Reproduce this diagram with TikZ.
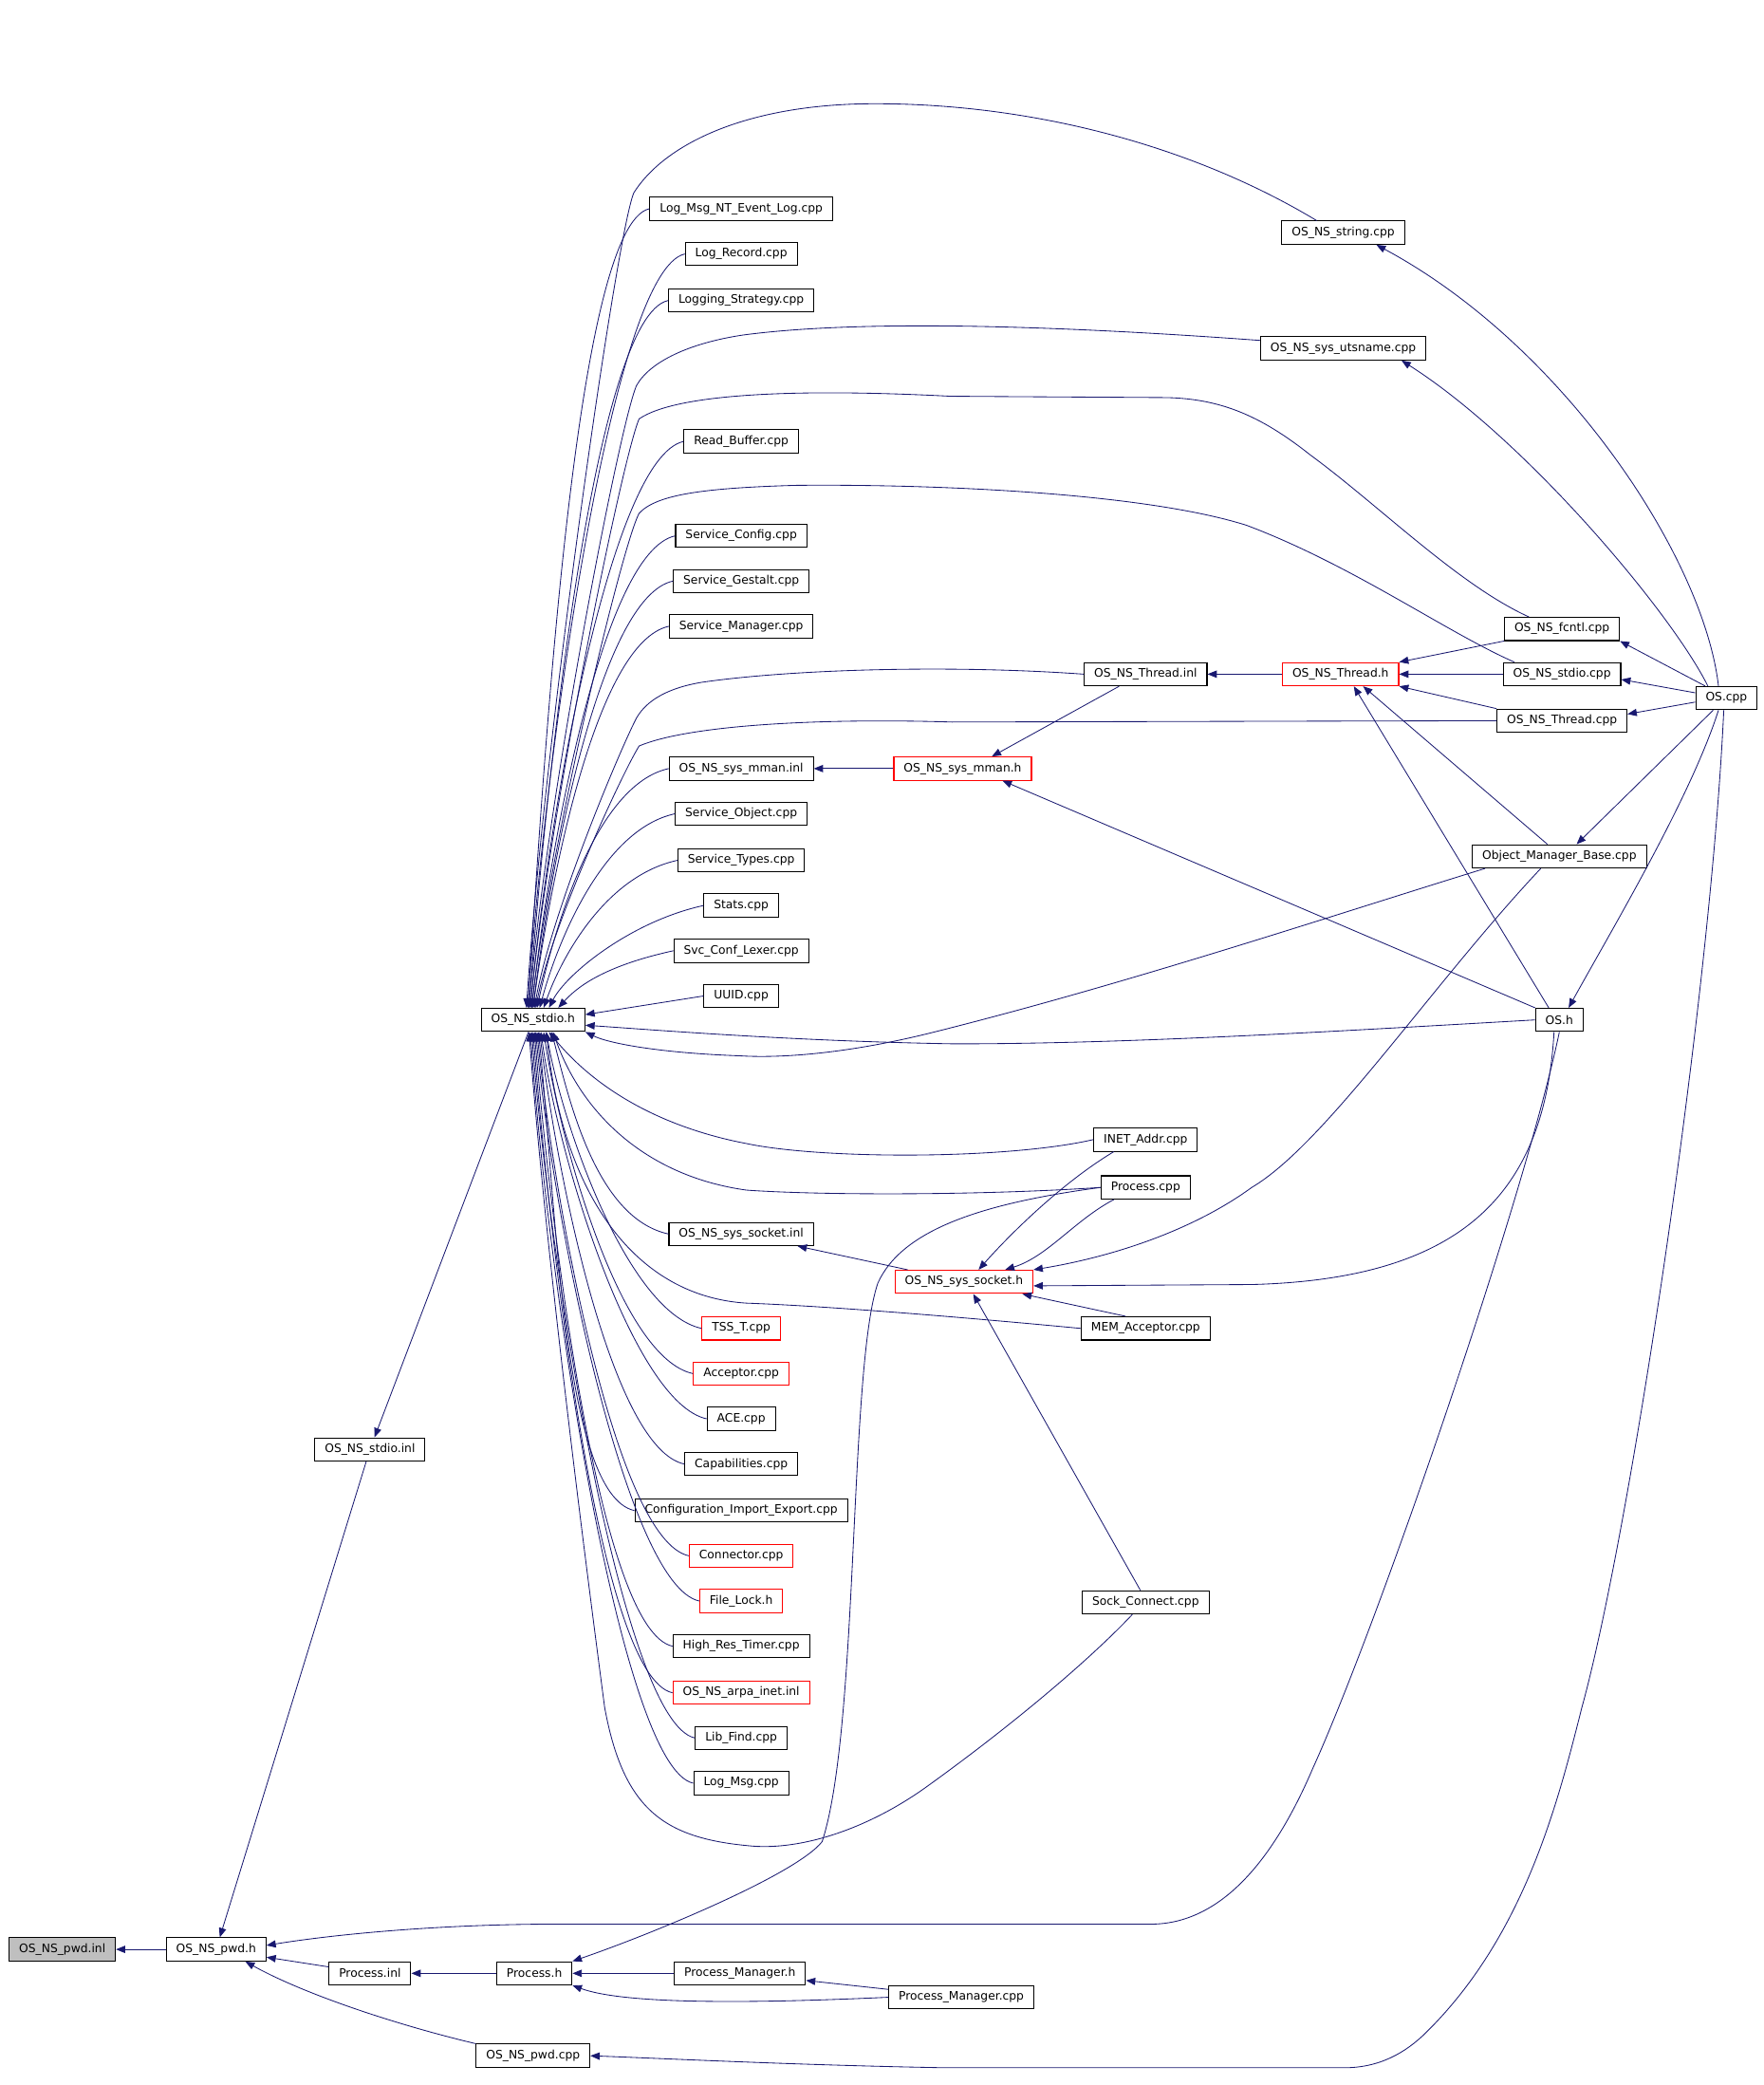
\documentclass[tikz,border=0pt]{standalone}
\usepackage{fontspec}
\newfontfamily\dxfont{DejaVu Sans}
\usetikzlibrary{calc,arrows.meta}
\definecolor{edgeblue}{RGB}{25,25,112}
\definecolor{rootgray}{RGB}{191,191,191}
\tikzset{
  filebox/.style={draw=black, line width=0.75pt, minimum height=17.5pt, inner xsep=7.5pt, inner ysep=0pt, font=\dxfont\fontsize{8.8}{10}\selectfont},
  redbox/.style={filebox, draw=red},
  rootbox/.style={filebox, fill=rootgray},
  dep/.style={draw=edgeblue, line width=0.6pt, -{Triangle[length=7pt,width=5.5pt]}}
}

\begin{document}
\begin{tikzpicture}[x=1pt, y=-1.0027pt]
	%%%%% START %%%%%
	\useasboundingbox (0,0) rectangle (1330,1568);

	% left part
	\node[rootbox] (pwdinl) at (47,1466) {OS\_NS\_pwd.inl};
	\node[filebox] (pwdh) at (163,1466) {OS\_NS\_pwd.h};
	\node[filebox] (procinl) at (279,1484) {Process.inl};
	\node[filebox] (prh) at (403,1484) {Process.h};
	\node[filebox] (pmh) at (558,1484) {Process\_Manager.h};
	\node[filebox] (pmcpp) at (725,1502) {Process\_Manager.cpp};
	\node[filebox] (pwdcpp) at (402,1546) {OS\_NS\_pwd.cpp};
	\node[filebox] (stdioinl) at (279,1090) {OS\_NS\_stdio.inl};
	\node[filebox] (stdioh) at (402,767) {OS\_NS\_stdio.h};

	% column of files including OS_NS_stdio.h
	\node[filebox] (lognt) at (559,157) {Log\_Msg\_NT\_Event\_Log.cpp};
	\node[filebox] (logrec) at (559,191) {Log\_Record.cpp};
	\node[filebox] (logstrat) at (559,226) {Logging\_Strategy.cpp};
	\node[filebox] (readbuf) at (559,332) {Read\_Buffer.cpp};
	\node[filebox] (svcconf) at (559,403) {Service\_Config.cpp};
	\node[filebox] (svcgest) at (559,437) {Service\_Gestalt.cpp};
	\node[filebox] (svcmgr) at (559,471) {Service\_Manager.cpp};
	\node[filebox] (mmaninl) at (559,578) {OS\_NS\_sys\_mman.inl};
	\node[filebox] (svcobj) at (559,612) {Service\_Object.cpp};
	\node[filebox] (svctypes) at (559,647) {Service\_Types.cpp};
	\node[filebox] (stats) at (559,681) {Stats.cpp};
	\node[filebox] (svclex) at (559,715) {Svc\_Conf\_Lexer.cpp};
	\node[filebox] (uuid) at (559,749) {UUID.cpp};
	\node[filebox] (sockinl) at (559,928) {OS\_NS\_sys\_socket.inl};
	\node[redbox] (tsst) at (559,999) {TSS\_T.cpp};
	\node[redbox] (acceptor) at (559,1033) {Acceptor.cpp};
	\node[filebox] (ace) at (559,1067) {ACE.cpp};
	\node[filebox] (capab) at (559,1101) {Capabilities.cpp};
	\node[filebox] (config) at (559,1136) {Configuration\_Import\_Export.cpp};
	\node[redbox] (connector) at (559,1170) {Connector.cpp};
	\node[redbox] (filelock) at (559,1204) {File\_Lock.h};
	\node[filebox] (hrtimer) at (559,1238) {High\_Res\_Timer.cpp};
	\node[redbox] (arpainl) at (559,1273) {OS\_NS\_arpa\_inet.inl};
	\node[filebox] (libfind) at (559,1307) {Lib\_Find.cpp};
	\node[filebox] (logmsg) at (559,1341) {Log\_Msg.cpp};

	% middle
	\node[filebox] (threadinl) at (864,507) {OS\_NS\_Thread.inl};
	\node[redbox] (mmanh) at (726,578) {OS\_NS\_sys\_mman.h};
	\node[redbox] (sockh) at (727,964) {OS\_NS\_sys\_socket.h};
	\node[filebox] (inet) at (864,857) {INET\_Addr.cpp};
	\node[filebox] (prcpp) at (864,893) {Process.cpp};
	\node[filebox] (mem) at (864,999) {MEM\_Acceptor.cpp};
	\node[filebox] (sockconn) at (864,1205) {Sock\_Connect.cpp};
	\node[redbox] (threadh) at (1011,507) {OS\_NS\_Thread.h};

	% right
	\node[filebox] (stringcpp) at (1013,175) {OS\_NS\_string.cpp};
	\node[filebox] (utsname) at (1013,262) {OS\_NS\_sys\_utsname.cpp};
	\node[filebox] (fcntl) at (1178,473) {OS\_NS\_fcntl.cpp};
	\node[filebox] (stdiocpp) at (1178,507) {OS\_NS\_stdio.cpp};
	\node[filebox] (threadcpp) at (1178,542) {OS\_NS\_Thread.cpp};
	\node[filebox] (omb) at (1176,644) {Object\_Manager\_Base.cpp};
	\node[filebox] (osh) at (1176,767) {OS.h};
	\node[filebox] (oscpp) at (1302,525) {OS.cpp};

	% pwd side
	\draw[dep] (pwdh) -- (pwdinl);
	\draw[dep] (procinl) -- (pwdh);
	\draw[dep] (pwdcpp.north west) .. controls (300,1523) and (230,1500) .. ([xshift=22pt]pwdh.south);
	\draw[dep] (stdioinl) -- (pwdh);
	\draw[dep] (stdioh) -- (stdioinl);
	\draw[dep] (prh) -- (procinl);
	\draw[dep] (pmh) -- (prh);
	\draw[dep] (pmcpp) -- (pmh);
	\draw[dep] (pmcpp.west) .. controls (560,1507) and (470,1507) .. (prh.south east);
	\draw[dep] (prcpp.west) .. controls (740,905) and (680,925) .. (662,965) .. controls (640,1030) and (648,1300) .. (620,1385) .. controls (600,1410) and (490,1455) .. (prh.north east);
	\draw[dep] (osh.south) .. controls (1150,900) and (1040,1220) .. (990,1330) .. controls (960,1400) and (920,1447) .. (868,1447) -- (420,1447) .. controls (330,1447) and (250,1455) .. ([yshift=3pt]pwdh.east);
	\draw[dep] ([xshift=-2pt]oscpp.south) .. controls (1290,750) and (1230,1150) .. (1193,1284) .. controls (1175,1355) and (1150,1455) .. (1076,1528) .. controls (1060,1544) and (1040,1555) .. (1014,1555) -- (712,1555) .. controls (600,1553) and (500,1548) .. (pwdcpp.east);

	% fan into OS_NS_stdio.h, top
	\foreach \n/\dx in {lognt/-4,logrec/-4,logstrat/-3,readbuf/-2,svcconf/-1,svcgest/0,svcmgr/0,mmaninl/3,svcobj/5,svctypes/8,stats/12,svclex/19}{
		\coordinate (tip) at ([xshift=\dx pt]stdioh.north);
		\draw[dep] (\n.west) .. controls +(-55,12) and ($(tip)!0.33!(tip |- \n.west) + (13,0)$) .. (tip);
	}
	\draw[dep] (uuid.west) -- ([yshift=4pt]stdioh.east);

	% fan into OS_NS_stdio.h, bottom
	\foreach \n/\dx in {sockinl/14,tsst/10,acceptor/8,ace/6,capab/5,config/4,connector/3,filelock/2,hrtimer/1,arpainl/0,libfind/-1,logmsg/-2}{
		\coordinate (tip) at ([xshift=\dx pt]stdioh.south);
		\draw[dep] (\n.west) .. controls +(-55,-12) and ($(tip)!0.33!(tip |- \n.west) + (13,0)$) .. (tip);
	}

	% long ones into OS_NS_stdio.h
	\draw[dep] ([xshift=-20pt]stringcpp.north) .. controls (900,110) and (780,78) .. (660,78) .. controls (560,78) and (500,110) .. (478,145) .. controls (465,175) and (410,560) .. ([xshift=-5pt]stdioh.north);
	\draw[dep] ([yshift=6pt]utsname.west) .. controls (800,245) and (650,240) .. (560,252) .. controls (520,258) and (490,272) .. (480,290) .. controls (467,320) and (412,605) .. ([xshift=-3pt]stdioh.north);
	\draw[dep] ([xshift=-25pt]fcntl.north) .. controls (1100,440) and (1040,380) .. (988,342) .. controls (950,312) and (920,300) .. (880,299) -- (717,298) .. controls (600,292) and (510,296) .. (482,315) .. controls (469,345) and (413,620) .. ([xshift=-2pt]stdioh.north);
	\draw[dep] ([xshift=-36pt]stdiocpp.north) .. controls (1090,475) and (1020,425) .. (940,395) .. controls (860,370) and (700,364) .. (600,365) .. controls (530,367) and (495,372) .. (482,386) .. controls (469,410) and (414,640) .. ([xshift=-1pt]stdioh.north);
	\draw[dep] (threadinl.west) .. controls (720,500) and (600,503) .. (530,513) .. controls (505,517) and (488,526) .. (480,540) .. controls (467,565) and (416,686) .. ([xshift=1pt]stdioh.north);
	\draw[dep] (threadcpp.west) -- (718,543) .. controls (620,540) and (520,545) .. (482,561) .. controls (470,580) and (417,693) .. ([xshift=2pt]stdioh.north);
	\draw[dep] ([xshift=10pt]omb.south west) .. controls (1000,690) and (850,740) .. (701,777) .. controls (640,792) and (590,796) .. (558,794) .. controls (500,792) and (460,785) .. (stdioh.south east);
	\draw[dep] (osh.west) .. controls (1000,776) and (850,785) .. (720,785) .. controls (600,783) and (500,775) .. ([yshift=-4pt]stdioh.east);
	\draw[dep] (inet.west) .. controls (760,872) and (620,872) .. (563,860) .. controls (500,848) and (450,820) .. ([xshift=12pt]stdioh.south);
	\draw[dep] (prcpp.west) .. controls (740,899) and (620,899) .. (563,895) .. controls (490,885) and (440,840) .. ([xshift=15pt]stdioh.south);
	\draw[dep] (mem.west) .. controls (720,990) and (620,982) .. (563,980) .. controls (480,975) and (425,900) .. ([xshift=10pt]stdioh.south);
	\draw[dep] ([xshift=-10pt]sockconn.south) .. controls (820,1250) and (760,1300) .. (697,1345) .. controls (650,1378) and (600,1392) .. (564,1388) .. controls (500,1382) and (470,1360) .. (456,1284) .. controls (445,1200) and (412,950) .. ([xshift=-3pt]stdioh.south);

	% OS_NS_Thread.h and OS_NS_sys_mman.h
	\draw[dep] (threadh) -- (threadinl);
	\draw[dep] (fcntl.south west) -- (threadh.north east);
	\draw[dep] (stdiocpp) -- (threadh);
	\draw[dep] (threadcpp.north west) -- (threadh.south east);
	\draw[dep] ([xshift=-9pt]omb.north) -- ([xshift=17pt]threadh.south);
	\draw[dep] ([xshift=-8pt]osh.north) -- ([xshift=10pt]threadh.south);
	\draw[dep] ([xshift=-20pt]threadinl.south) -- ([xshift=22pt]mmanh.north);
	\draw[dep] (mmanh) -- (mmaninl);
	\draw[dep] (osh.north west) -- ([xshift=30pt]mmanh.south);

	% OS_NS_sys_socket.h
	\draw[dep] (sockh) -- (sockinl);
	\draw[dep] ([xshift=-24pt]inet.south) .. controls (800,890) and (760,930) .. ([xshift=11pt]sockh.north);
	\draw[dep] ([xshift=-24pt]prcpp.south) .. controls (810,918) and (790,945) .. ([xshift=31pt]sockh.north);
	\draw[dep] ([xshift=-15pt]mem.north) -- ([xshift=44pt]sockh.south);
	\draw[dep] ([xshift=-4pt]osh.south) .. controls (1165,900) and (1100,962) .. (944,966) -- ([yshift=-3pt]sockh.east);
	\draw[dep] ([xshift=-14pt]omb.south) .. controls (1080,740) and (1000,860) .. (944,893) .. controls (900,925) and (840,945) .. (sockh.north east);
	\draw[dep] ([xshift=-4pt]sockconn.north) -- ([xshift=7pt]sockh.south);

	% OS.cpp
	\draw[dep] ([xshift=-6pt]oscpp.north) .. controls (1285,420) and (1180,260) .. ([xshift=25pt]stringcpp.south);
	\draw[dep] ([xshift=-14pt]oscpp.north) .. controls (1260,460) and (1150,330) .. ([xshift=44pt]utsname.south);
	\draw[dep] ([xshift=-16pt]oscpp.north) -- (fcntl.south east);
	\draw[dep] ([yshift=4pt]oscpp.west) -- ([yshift=-4pt]stdiocpp.east);
	\draw[dep] ([yshift=-3pt]oscpp.west) -- ([yshift=5pt]threadcpp.east);
	\draw[dep] ([xshift=-10pt]oscpp.south) -- ([xshift=13pt]omb.north);
	\draw[dep] ([xshift=-6pt]oscpp.south) .. controls (1275,600) and (1215,700) .. ([xshift=7pt]osh.north);
	%%%%% END %%%%%
\end{tikzpicture}
\end{document}
